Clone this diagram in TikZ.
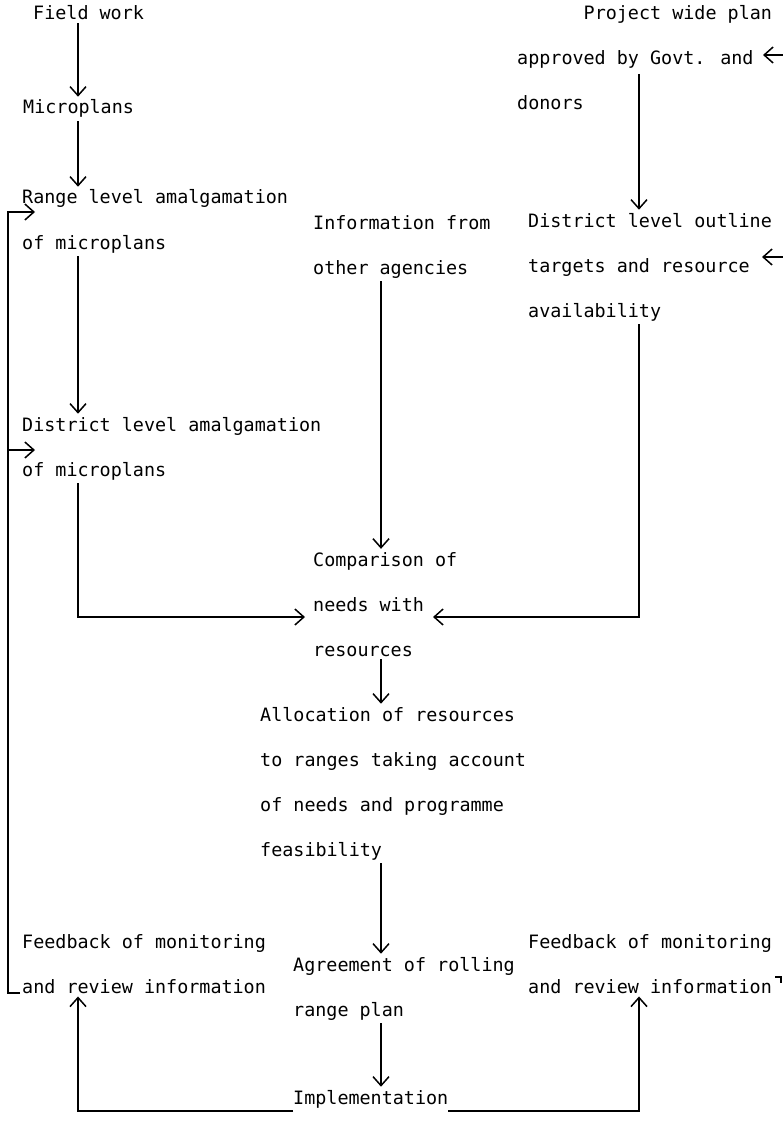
\documentclass[tikz,border=0pt]{standalone}
\usepackage{fontspec}
\newfontfamily\tw{DejaVu Sans Mono}
\usetikzlibrary{arrows.meta}
\tikzset{
  blk/.style={anchor=base west, inner xsep=0pt, inner ysep=3pt, align=left,
    font=\tw\fontsize{18.4}{45}\selectfont},
  wire/.style={line width=1.5pt},
  flow/.style={wire, -{Straight Barb[length=9pt,width=16pt,line width=1.5pt]}}
}
% base of a block = baseline of its last line
\newcommand{\block}[4]{\node[blk] (#1) at (#2,#3) {#4};}
\newcommand{\flow}[2]{\draw[flow] (#1) -- (#2);}

\begin{document}
\begin{tikzpicture}[x=1pt,y=-1pt]
    \useasboundingbox (0,0) rectangle (783,1123);
    \coordinate (cE) at (8,0); \coordinate (cL) at (78,0);
    \coordinate (cM) at (381,0); \coordinate (cR) at (639,0);
    % left column
    \block{field}{33}{20}{Field work}
    \block{micro}{23}{114}{Microplans}
    \block{range}{22}{249}{Range level amalgamation\\of microplans}
    \block{distamal}{22}{476}{District level amalgamation\\of microplans}
    % middle and right columns
    \block{info}{313}{274}{Information from\\other agencies}
    \block{project}{517}{110}{\phantom{000000}Project wide plan\\approved by Govt. and\\donors}
    \block{outline}{528}{317}{District level outline\\targets and resource\\availability}
    \block{compare}{313}{656}{Comparison of\\needs with\\resources}
    \block{alloc}{260}{856}{Allocation of resources\\to ranges taking account\\of needs and programme\\feasibility}
    \block{fbleft}{22}{993}{Feedback of monitoring\\and review information}
    \block{fbright}{528}{993}{Feedback of monitoring\\and review information}
    \block{agree}{293}{1016}{Agreement of rolling\\range plan}
    \block{impl}{293}{1104}{Implementation}
    % named ends
    \coordinate (projOut) at ([yshift=36pt]project.base west);
    \coordinate (cmpL) at ([xshift=-8pt,yshift=39pt]compare.base west);
    \coordinate (cmpR) at ([xshift=120pt,yshift=39pt]compare.base west);
    \coordinate (rgIn) at ([xshift=13pt,yshift=37pt]range.base west);
    \coordinate (dsIn) at ([xshift=13pt,yshift=26pt]distamal.base west);
    \coordinate (fbL) at ([xshift=-2pt]fbleft.base west);
    \coordinate (fbR) at ([xshift=247pt,yshift=16pt]fbright.base west);
    \coordinate (edgeR) at (781,0);
    \coordinate (inA) at (763,55); \coordinate (edgeA) at (783,55);
    \coordinate (inB) at (762,257); \coordinate (edgeB) at (783,257);
    % connectors
    \flow{field.south -| cL}{micro.north -| cL}
    \flow{micro.south -| cL}{range.north -| cL}
    \flow{range.south -| cL}{distamal.north -| cL}
    \draw[flow] (distamal.south -| cL) |- (cmpL);
    \flow{info.south -| cM}{compare.north -| cM}
    \flow{projOut -| cR}{outline.north -| cR}
    \draw[flow] (outline.south -| cR) |- (cmpR);
    \flow{compare.south -| cM}{alloc.north -| cM}
    \flow{alloc.south -| cM}{agree.north -| cM}
    \flow{agree.south -| cM}{impl.north -| cM}
    \draw[flow] (impl.south west) -| (fbleft.south -| cL);
    \draw[flow] (impl.south east) -| (fbright.south -| cR);
    \draw[flow] (fbL) -| (rgIn -| cE) -- (rgIn);
    \flow{dsIn -| cE}{dsIn}
    \draw[wire] (fbR) -- (fbR -| edgeR) -- ([yshift=-6pt]fbR -| edgeR);
    \flow{edgeA}{inA}
    \flow{edgeB}{inB}
\end{tikzpicture}
\end{document}
